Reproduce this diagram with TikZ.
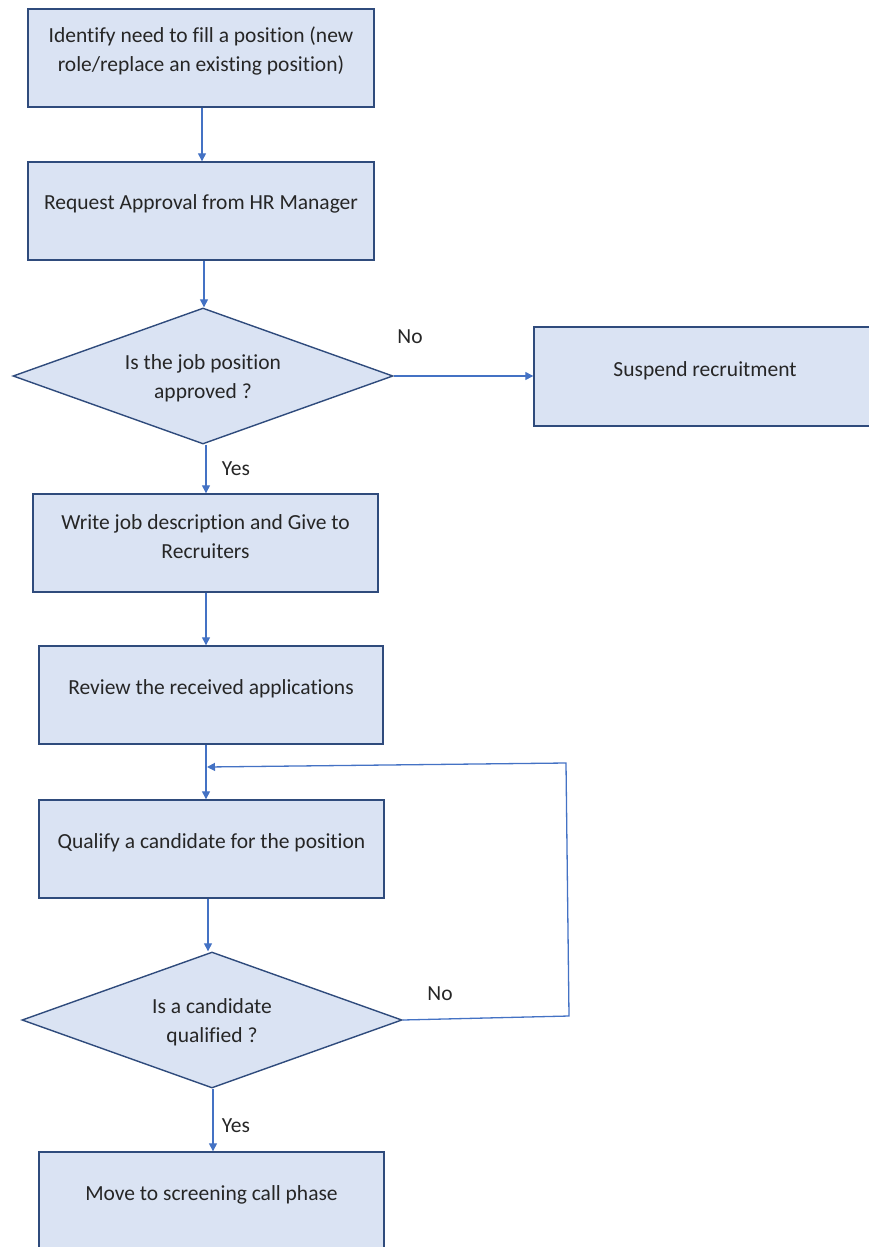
\documentclass[tikz,border=0pt]{standalone}
\usepackage{fontspec}
\setmainfont[Ligatures=NoCommon]{Carlito}
\usetikzlibrary{shapes.geometric,arrows.meta,calc}
\definecolor{boxfill}{HTML}{DAE3F3}
\definecolor{boxline}{HTML}{2F4B7C}
\definecolor{flow}{HTML}{4472C4}
\definecolor{ink}{HTML}{262626}
\tikzset{
  stepbox/.style={draw=boxline, fill=boxfill, line width=1.4pt, rectangle,
    minimum width=346pt, minimum height=98pt, inner sep=0pt},
  decision/.style={draw=boxline, fill=boxfill, line width=1.4pt, diamond,
    minimum width=380pt, minimum height=136pt, inner sep=0pt},
  caption/.style={text=ink, align=center, inner sep=0pt,
    font=\fontsize{21.5}{29}\selectfont},
  flowarrow/.style={draw=flow, line width=1.3pt,
    -{Triangle[width=8pt,length=8pt]}}
}
\begin{document}
\begin{tikzpicture}[x=1pt,y=1pt]
\useasboundingbox (0,0) rectangle (869,-1247);

% process boxes
\node[stepbox] (identify) at (201,-58) {};
\node[stepbox] (request) at (201,-211) {};
\node[decision] (approved) at (203,-376) {};
\node[stepbox, minimum width=342pt, minimum height=99pt] (suspend) at (705,-376.5) {};
\node[stepbox, minimum width=345pt] (write) at (205.5,-543) {};
\node[stepbox, minimum width=344pt] (review) at (211,-695) {};
\node[stepbox, minimum width=345pt] (qualify) at (211.5,-849) {};
\node[decision] (qualified) at (212,-1020) {};
\node[stepbox, minimum width=345pt] (move) at (211.5,-1201) {};

% box texts
\node[caption] (tidentify) at ($(identify.center)+(0,7)$)
  {Identify need to fill a position (new\\role/replace an existing position)};
\node[caption] (trequest) at ($(request.center)+(0,7)$) {Request Approval from HR Manager};
\node[caption] (tapproved) at ($(approved.center)+(0,-2)$) {Is the job position\\approved ?};
\node[caption] (tsuspend) at ($(suspend.center)+(0,6)$) {Suspend recruitment};
\node[caption] (twrite) at ($(write.center)+(0,6)$) {Write job description and Give to\\Recruiters};
\node[caption] (treview) at ($(review.center)+(0,6)$) {Review the received applications};
\node[caption] (tqualify) at ($(qualify.center)+(0,6)$) {Qualify a candidate for the position};
\node[caption] (tqualified) at ($(qualified.center)+(0,-2)$) {Is a candidate\\qualified ?};
\node[caption] (tmove) at ($(move.center)+(0,6)$) {Move to screening call phase};

% branch labels
\node[caption] (no1) at (410,-337) {No};
\node[caption] (yes1) at (236,-469) {Yes};
\node[caption] (no2) at (440,-994) {No};
\node[caption] (yes2) at (236,-1126) {Yes};

% columns of the vertical connectors
\coordinate (c1) at (202,0);
\coordinate (c2) at (204,0);
\coordinate (c3) at (206,0);
\coordinate (c6) at (208,0);
\coordinate (c7) at (213,0);

% connectors
\draw[flowarrow] (c1 |- identify.south) -- (c1 |- request.north);
\draw[flowarrow] (c2 |- request.south) -- (c2 |- approved.north);
\draw[flowarrow] (approved.east) -- (suspend.west |- approved.east);
\draw[flowarrow] (c3 |- approved.south) -- (c3 |- write.north);
\draw[flowarrow] (c3 |- write.south) -- (c3 |- review.north);
\draw[flowarrow] (c3 |- review.south) -- (c3 |- qualify.north);
\draw[flowarrow] (c6 |- qualify.south) -- (c6 |- qualified.north);
\draw[flowarrow] (c7 |- qualified.south) -- (c7 |- move.north);

% loop back from the second decision
\coordinate (loopdown) at (569,-1016);
\coordinate (loopup) at (566,-763);
\coordinate (merge) at (207,-767);
\draw[flowarrow] (qualified.east) -- (loopdown) -- (loopup) -- (merge);
\end{tikzpicture}
\end{document}
